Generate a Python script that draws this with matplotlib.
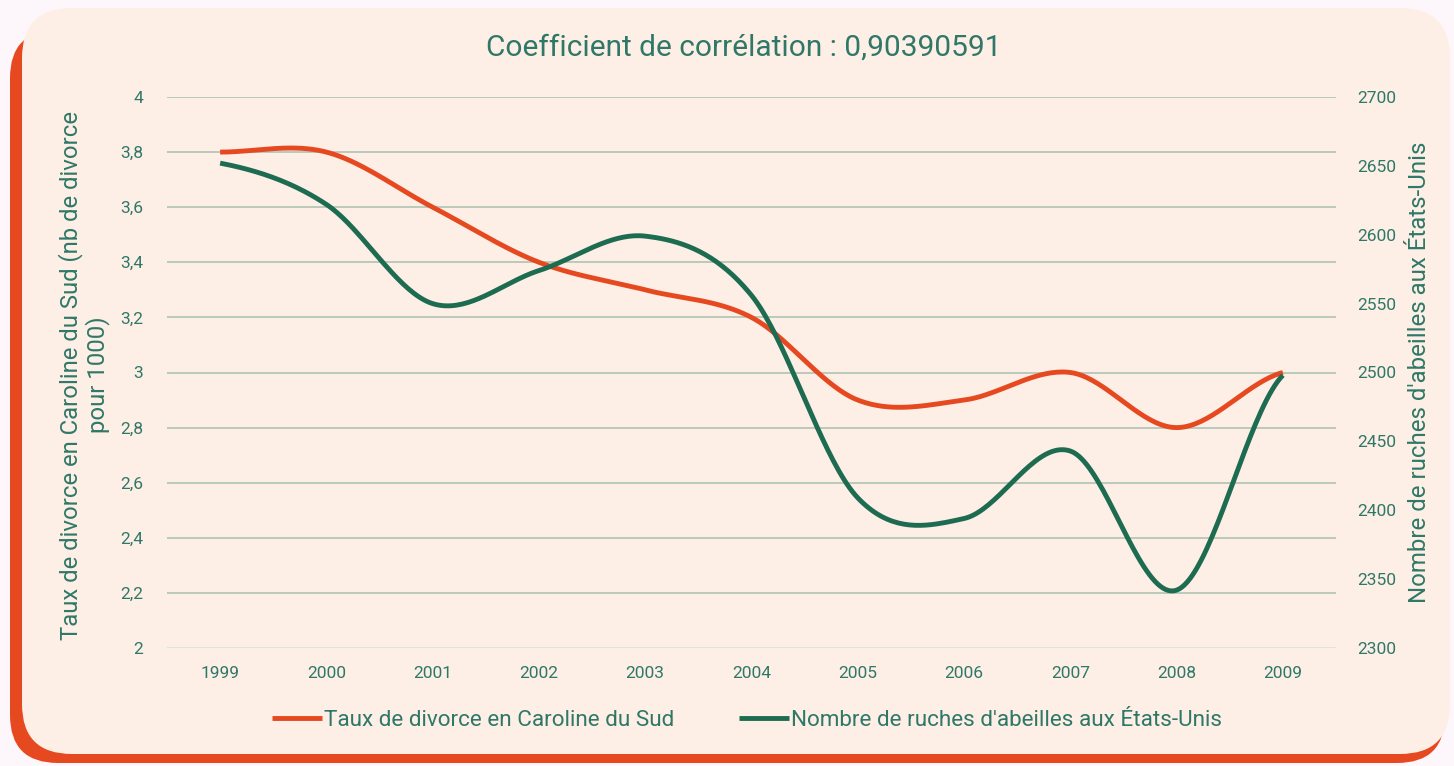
import numpy as np
import matplotlib
matplotlib.use("Agg")
import matplotlib.pyplot as plt
from matplotlib.patches import FancyBboxPatch

years = ["1999", "2000", "2001", "2002", "2003", "2004", "2005", "2006", "2007", "2008", "2009"]
divorce = [3.8, 3.8, 3.6, 3.4, 3.3, 3.2, 2.9, 2.9, 3.0, 2.8, 3.0]
ruches = [2652, 2622, 2550, 2574, 2599, 2556, 2409, 2394, 2443, 2342, 2498]
left_ticks = [2, 2.2, 2.4, 2.6, 2.8, 3, 3.2, 3.4, 3.6, 3.8, 4]
right_ticks = [2300, 2350, 2400, 2450, 2500, 2550, 2600, 2650, 2700]
title = "Coefficient de corrélation : 0,90390591"
label_left = "Taux de divorce en Caroline du Sud (nb de divorce\npour 1000)"
label_right = "Nombre de ruches d'abeilles aux États-Unis"
leg1 = "Taux de divorce en Caroline du Sud"
leg2 = "Nombre de ruches d'abeilles aux États-Unis"

ORANGE = "#e6491f"
GREEN = "#1d6b50"
TEXT = "#2f7868"
GRID = "#b0c3b3"
BG = "#fdeee6"
FONT = "Roboto"

def smooth(xs, ys, n=40):
    xs = np.asarray(xs, float); ys = np.asarray(ys, float)
    px = np.concatenate([[2*xs[0]-xs[1]], xs, [2*xs[-1]-xs[-2]]])
    py = np.concatenate([[ys[0]], ys, [ys[-1]]])
    outx, outy = [], []
    for i in range(1, len(px)-2):
        p0x, p1x, p2x, p3x = px[i-1:i+3]
        p0y, p1y, p2y, p3y = py[i-1:i+3]
        c1x = p1x + (p2x - p0x)/6; c1y = p1y + (p2y - p0y)/6
        c2x = p2x - (p3x - p1x)/6; c2y = p2y - (p3y - p1y)/6
        t = np.linspace(0, 1, n)
        bx = (1-t)**3*p1x + 3*(1-t)**2*t*c1x + 3*(1-t)*t**2*c2x + t**3*p2x
        by = (1-t)**3*p1y + 3*(1-t)**2*t*c1y + 3*(1-t)*t**2*c2y + t**3*p2y
        outx.append(bx); outy.append(by)
    return np.concatenate(outx), np.concatenate(outy)

W, H = 1454, 766
fig = plt.figure(figsize=(W/100, H/100), dpi=100)
fig.patch.set_facecolor("#fdf7fb")

bgax = fig.add_axes([0, 0, 1, 1])
bgax.set_xlim(0, W); bgax.set_ylim(H, 0); bgax.axis("off")
bgax.add_patch(FancyBboxPatch((10+48, 30+48), 1435-96, 733-96,
                              boxstyle="round,pad=48", fc=ORANGE, ec="none"))
bgax.add_patch(FancyBboxPatch((22+50, 8+50), 1428-100, 746-100,
                              boxstyle="round,pad=50", fc=BG, ec="none"))

x0, x1, y0, y1 = 167, 1336, 97, 648
ax = fig.add_axes([x0/W, 1-y1/H, (x1-x0)/W, (y1-y0)/H])
ax.patch.set_alpha(0)
ax2 = ax.twinx()

xs = np.arange(len(years))
ax.set_xlim(-0.5, len(years)-0.5)
ax.set_ylim(2, 4)
ax2.set_ylim(2300, 2700)

for s in list(ax.spines.values()) + list(ax2.spines.values()):
    s.set_visible(False)

ax.set_yticks(left_ticks)
ax.set_yticklabels([("%g" % v).replace(".", ",") for v in left_ticks])
ax2.set_yticks(right_ticks)
ax2.set_yticklabels([str(v) for v in right_ticks])
ax.set_xticks(xs)
ax.set_xticklabels(years)
for a in (ax, ax2):
    a.tick_params(length=0, colors=TEXT, labelsize=12.5)
    for lab in a.get_yticklabels() + a.get_xticklabels():
        lab.set_fontfamily(FONT)
ax.tick_params(axis="y", pad=17)
ax2.tick_params(axis="y", pad=15)
ax.tick_params(axis="x", pad=13)

for v in left_ticks:
    ax.axhline(v, color=GRID if v != 2 else "#d6e3da", lw=1.2, zorder=0)

sx, sy = smooth(xs, divorce)
l1, = ax.plot(sx, sy, color=ORANGE, lw=3.5, solid_capstyle="butt", zorder=3)
sx2, sy2 = smooth(xs, ruches)
l2, = ax2.plot(sx2, sy2, color=GREEN, lw=3.5, solid_capstyle="butt", zorder=3)

fig.text(84/W, 1-375/H, label_left, fontsize=17.2, color=TEXT, family=FONT,
         rotation=90, ha="center", va="center", linespacing=1.1, multialignment="center")
fig.text(1420/W, 1-372/H, label_right, fontsize=17.3, color=TEXT, family=FONT,
         rotation=90, ha="center", va="center")

fig.text(744/W, 1-48/H, title, fontsize=21.5, color=TEXT, family=FONT, ha="center", va="center")

leg = fig.legend([l1, l2], [leg1, leg2], loc="center", bbox_to_anchor=(747/W, 1-720/H),
                 ncol=2, frameon=False, handlelength=2.2, handletextpad=0.1,
                 columnspacing=2.9, prop={"family": FONT, "size": 16.2})
for t in leg.get_texts():
    t.set_color(TEXT)

fig.savefig("out.png", dpi=100, facecolor=fig.get_facecolor())
